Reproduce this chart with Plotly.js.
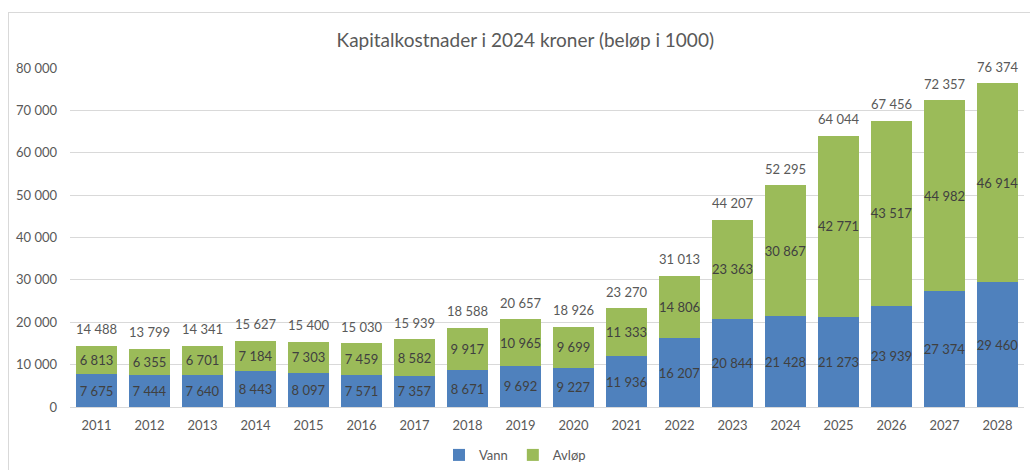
<!DOCTYPE html>
<html>
<head>
<meta charset="utf-8">
<script src="https://cdn.plot.ly/plotly-3.0.1.min.js"></script>
<style>
html,body{margin:0;padding:0;background:#fff;}
#wrap{position:relative;width:1030px;height:470px;overflow:hidden;}
#chart{position:absolute;left:0;top:0;width:1030px;height:470px;}
#frame{position:absolute;left:8px;top:12px;width:1100px;height:600px;border-left:1px solid #d9d9d9;border-top:1px solid #d9d9d9;pointer-events:none;}
</style>
</head>
<body>
<div id="wrap"><div id="chart"></div><div id="frame"></div></div>
<script>
const years = ["2011","2012","2013","2014","2015","2016","2017","2018","2019","2020","2021","2022","2023","2024","2025","2026","2027","2028"];
const vann = [7675,7444,7640,8443,8097,7571,7357,8671,9692,9227,11936,16207,20844,21428,21273,23939,27374,29460];
const avlop = [6813,6355,6701,7184,7303,7459,8582,9917,10965,9699,11333,14806,23363,30867,42771,43517,44982,46914];
const totals = [14488,13799,14341,15627,15400,15030,15939,18588,20657,18926,23270,31013,44207,52295,64044,67456,72357,76374];

const font = "Lato, 'Open Sans', sans-serif";
const traces = [
  {type:'bar', name:'Vann', x:years, y:vann, marker:{color:'#4F81BD'},
   text:vann, texttemplate:'%{y:,.0f}', textposition:'inside', insidetextanchor:'middle', textangle:0,
   constraintext:'none', textfont:{family:font,size:13,color:'#404040'}, hoverinfo:'none'},
  {type:'bar', name:'Avløp', x:years, y:avlop, marker:{color:'#9BBB59'},
   text:avlop, texttemplate:'%{y:,.0f}', textposition:'inside', insidetextanchor:'middle', textangle:0,
   constraintext:'none', textfont:{family:font,size:13,color:'#404040'}, hoverinfo:'none'},
  {type:'scatter', mode:'markers+text', x:years, y:totals, text:totals, texttemplate:'%{y:,.0f}',
   marker:{size:12, opacity:0, color:'#ffffff'},
   textposition:'top center', textfont:{family:font,size:13,color:'#595959'},
   showlegend:false, cliponaxis:false, hoverinfo:'none'}
];
const layout = {
  width:1030, height:470,
  margin:{l:70,r:6,t:68,b:63},
  barmode:'stack', bargap:0.226,
  separators:', ',
  paper_bgcolor:'rgba(0,0,0,0)', plot_bgcolor:'rgba(0,0,0,0)',
  font:{family:font,color:'#595959',size:13},
  title:{text:'Kapitalkostnader i 2024 kroner (beløp i 1000)', font:{family:font,size:19,color:'#595959'}, x:0.51, xanchor:'center', y:0.915, yanchor:'middle'},
  xaxis:{type:'category', range:[-0.5, years.length-0.5], automargin:false, showgrid:false, showline:true, linecolor:'#d9d9d9', linewidth:1, ticks:'', tickfont:{family:font,size:13,color:'#595959'}, ticklabelstandoff:6},
  yaxis:{range:[0,80000], automargin:false, dtick:10000, tickformat:',.0f', showgrid:true, gridcolor:'#d9d9d9', gridwidth:1, zeroline:false, showline:false, ticks:'', tickfont:{family:font,size:13,color:'#595959'}, ticklabelstandoff:12},
  legend:{orientation:'h', x:0.5, xanchor:'center', xref:'container', yref:'container', y:0.032, yanchor:'middle', font:{family:font,size:13,color:'#595959'}, itemwidth:30, traceorder:'normal'},
  showlegend:true
};
Plotly.newPlot('chart', traces, layout, {staticPlot:true, displayModeBar:false});
</script>
</body>
</html>
